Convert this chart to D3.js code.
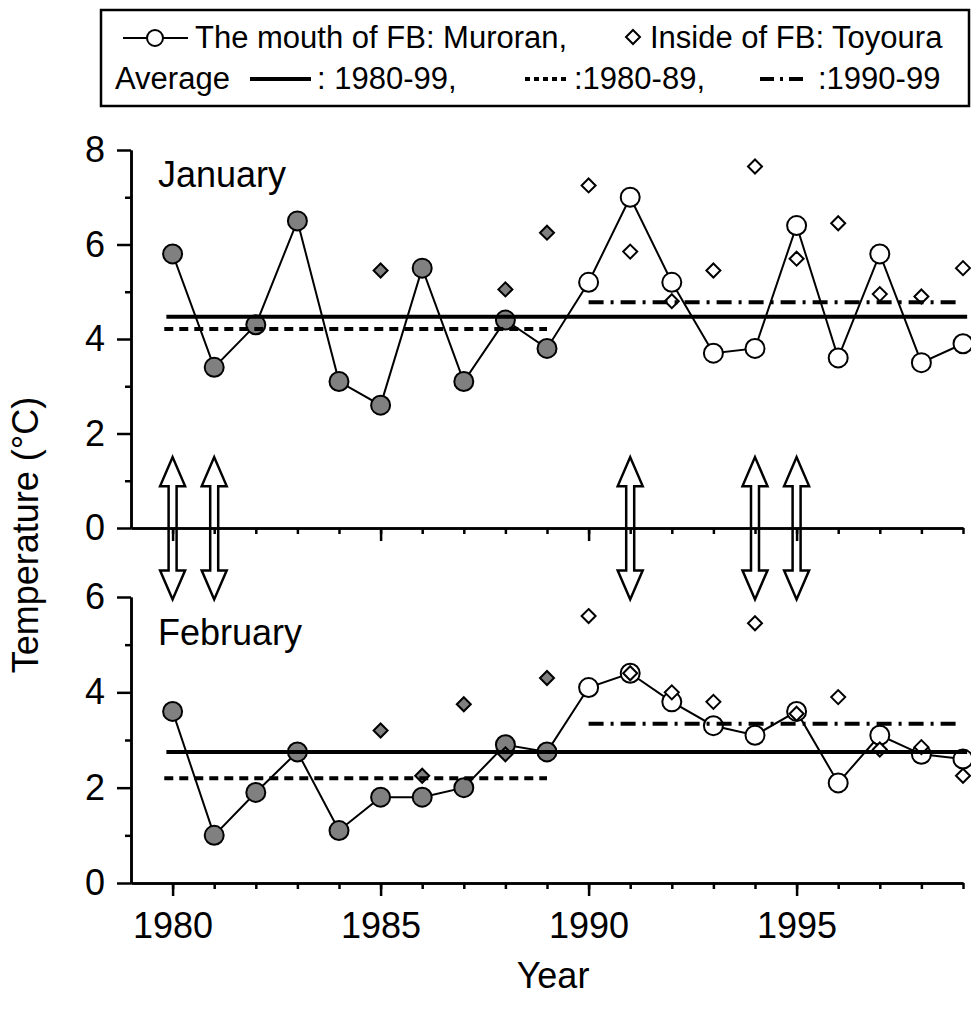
<!DOCTYPE html>
<html>
<head>
<meta charset="utf-8">
<script src="https://cdn.jsdelivr.net/npm/d3@7"></script>
<style>
body { margin: 0; background: #fff; }
svg text { font-family: "Liberation Sans", Arial, sans-serif; fill: #000; }
</style>
</head>
<body>
<script>
// years on the x axis
var years = [1980, 1981, 1982, 1983, 1984, 1985, 1986, 1987, 1988, 1989,
             1990, 1991, 1992, 1993, 1994, 1995, 1996, 1997, 1998, 1999];

// January, mouth of Funka Bay (Muroran) and inside (Toyoura)
var janMuroran = [5.8, 3.4, 4.3, 6.5, 3.1, 2.6, 5.5, 3.1, 4.4, 3.8,
                  5.2, 7.0, 5.2, 3.7, 3.8, 6.4, 3.6, 5.8, 3.5, 3.9];
var janToyoura = [null, null, null, null, null, 5.45, null, null, 5.05, 6.25,
                  7.25, 5.85, 4.8, 5.45, 7.65, 5.7, 6.45, 4.95, 4.9, 5.5];

// February
var febMuroran = [3.6, 1.0, 1.9, 2.75, 1.1, 1.8, 1.8, 2.0, 2.9, 2.75,
                  4.1, 4.4, 3.8, 3.3, 3.1, 3.6, 2.1, 3.1, 2.7, 2.6];
var febToyoura = [null, null, null, null, null, 3.2, 2.25, 3.75, 2.7, 4.3,
                  5.6, 4.4, 4.0, 3.8, 5.45, 3.55, 3.9, 2.8, 2.85, 2.25];

// averages: 1980-99, 1980-89, 1990-99
var avgStart = [1979.85, 1979.8, 1990];
var avgEnd = [1999.1, 1989, 1998.9];
var janAvg = [4.47, 4.21, 4.78];
var febAvg = [2.75, 2.2, 3.34];
var avgDash = [null, "9,6", "15,7,3,7"];

// years with a double arrow between the panels
var arrowYears = [1980, 1981, 1991, 1994, 1995];

var yTopTicks = [0, 2, 4, 6, 8];
var yTopMinor = [1, 3, 5, 7];
var yBotTicks = [0, 2, 4, 6];
var yBotMinor = [1, 3, 5];
var xTicks = [1980, 1985, 1990, 1995];

var w = 971;
var h = 1010;
var grey = "#808080";
var font = "'Liberation Sans', Arial, sans-serif";

var svg = d3.select("body")
    .append("svg")
    .attr("width", w)
    .attr("height", h)
    .attr("font-family", font);

var xScale = d3.scaleLinear().domain([1979, 1999]).range([131, 963]);
var yTop = d3.scaleLinear().domain([0, 8]).range([528, 150]);
var yBot = d3.scaleLinear().domain([0, 6]).range([883, 597]);

function styleAxis(g, showText) {
    g.attr("font-family", font).attr("font-size", null);
    g.selectAll("path.domain").attr("stroke-width", 2.5).attr("stroke", "#000");
    g.selectAll("line").attr("stroke-width", 2.5).attr("stroke", "#000");
    g.selectAll("text").style("font-size", "36px");
    if (!showText) g.selectAll("text").remove();
}

// arrows first, axes drawn over them
function arrowPath(x, t, b) {
    var hl = 29, hw = 12.5, sw = 4;
    return "M" + x + "," + t +
        "L" + (x + hw) + "," + (t + hl) + "L" + (x + sw) + "," + (t + hl) +
        "L" + (x + sw) + "," + (b - hl) + "L" + (x + hw) + "," + (b - hl) +
        "L" + x + "," + b +
        "L" + (x - hw) + "," + (b - hl) + "L" + (x - sw) + "," + (b - hl) +
        "L" + (x - sw) + "," + (t + hl) + "L" + (x - hw) + "," + (t + hl) + "Z";
}
svg.selectAll("path.arrow")
    .data(arrowYears)
    .join("path")
    .attr("class", "arrow")
    .attr("d", d => arrowPath(xScale(d), yTop(1.5), yBot(5.95)))
    .attr("fill", "#fff")
    .attr("stroke", "#000")
    .attr("stroke-width", 2.5)
    .attr("stroke-linejoin", "miter");

function drawPanel(yScale, yTicks, yMinor, muroran, toyoura, avg, label, labelY, showYears) {
    // y axis
    svg.append("g")
        .attr("transform", "translate(" + xScale(1979) + ",0)")
        .call(d3.axisLeft(yScale).tickValues(yTicks).tickSize(14).tickSizeOuter(0).tickPadding(12)
            .tickFormat(d3.format("d")))
        .call(g => styleAxis(g, true));
    svg.append("g")
        .attr("transform", "translate(" + xScale(1979) + ",0)")
        .call(d3.axisLeft(yScale).tickValues(yMinor).tickSize(6).tickSizeOuter(0))
        .call(g => styleAxis(g, false));

    // x axis at zero
    svg.append("g")
        .attr("transform", "translate(0," + yScale(0) + ")")
        .call(d3.axisBottom(xScale).tickValues(xTicks).tickSize(13).tickSizeOuter(0).tickPadding(16)
            .tickFormat(d3.format("d")))
        .call(g => styleAxis(g, showYears));
    svg.append("g")
        .attr("transform", "translate(0," + yScale(0) + ")")
        .call(d3.axisBottom(xScale).tickValues(years).tickSize(6).tickSizeOuter(0))
        .call(g => styleAxis(g, false));

    svg.append("text")
        .attr("x", xScale(1979.65))
        .attr("y", labelY)
        .style("font-size", "36px")
        .text(label);

    var pts = years.map((y, i) => ({year: y, v: muroran[i]}));
    var line = d3.line().x(d => xScale(d.year)).y(d => yScale(d.v));
    svg.append("path")
        .datum(pts)
        .attr("d", line)
        .attr("fill", "none")
        .attr("stroke", "#000")
        .attr("stroke-width", 2);

    svg.append("g")
        .selectAll("circle")
        .data(pts)
        .join("circle")
        .attr("cx", d => xScale(d.year))
        .attr("cy", d => yScale(d.v))
        .attr("r", 9.5)
        .attr("fill", d => d.year < 1990 ? grey : "#fff")
        .attr("stroke", "#000")
        .attr("stroke-width", 2);

    var dia = years.map((y, i) => ({year: y, v: toyoura[i]})).filter(d => d.v != null);
    svg.append("g")
        .selectAll("path")
        .data(dia)
        .join("path")
        .attr("d", d => {
            var x = xScale(d.year), y = yScale(d.v), s = 7;
            return "M" + x + "," + (y - s) + "L" + (x + s) + "," + y +
                "L" + x + "," + (y + s) + "L" + (x - s) + "," + y + "Z";
        })
        .attr("fill", d => d.year < 1990 ? grey : "#fff")
        .attr("stroke", "#000")
        .attr("stroke-width", 2);

    avg.forEach((v, i) => {
        svg.append("line")
            .attr("x1", xScale(avgStart[i]))
            .attr("x2", xScale(avgEnd[i]))
            .attr("y1", yScale(v))
            .attr("y2", yScale(v))
            .attr("stroke", "#000")
            .attr("stroke-width", 4)
            .attr("stroke-dasharray", avgDash[i]);
    });
}

drawPanel(yTop, yTopTicks, yTopMinor, janMuroran, janToyoura, janAvg, "January", 187, false);
drawPanel(yBot, yBotTicks, yBotMinor, febMuroran, febToyoura, febAvg, "February", 645, true);

// axis titles
svg.append("text")
    .attr("transform", "translate(38,535) rotate(-90)")
    .attr("text-anchor", "middle")
    .style("font-size", "36px")
    .text("Temperature (°C)");
svg.append("text")
    .attr("x", 553)
    .attr("y", 988)
    .attr("text-anchor", "middle")
    .style("font-size", "36px")
    .text("Year");

// legend
var lg = svg.append("g");
lg.append("rect")
    .attr("x", 101).attr("y", 10)
    .attr("width", 868).attr("height", 96)
    .attr("fill", "none")
    .attr("stroke", "#000")
    .attr("stroke-width", 2.5);
lg.append("line").attr("x1", 123).attr("x2", 188).attr("y1", 38).attr("y2", 38)
    .attr("stroke", "#000").attr("stroke-width", 2);
lg.append("circle").attr("cx", 155).attr("cy", 38).attr("r", 8)
    .attr("fill", "#fff").attr("stroke", "#000").attr("stroke-width", 2);
lg.append("text").attr("x", 195).attr("y", 48).style("font-size", "31px")
    .text("The mouth of FB: Muroran,");
lg.append("path").attr("d", "M633,30L640,37L633,44L626,37Z")
    .attr("fill", "#fff").attr("stroke", "#000").attr("stroke-width", 2);
lg.append("text").attr("x", 650).attr("y", 48).style("font-size", "31px")
    .text("Inside of FB: Toyoura");

lg.append("text").attr("x", 115).attr("y", 89).style("font-size", "31px").text("Average");
lg.append("line").attr("x1", 250).attr("x2", 311).attr("y1", 79).attr("y2", 79)
    .attr("stroke", "#000").attr("stroke-width", 4);
lg.append("text").attr("x", 317).attr("y", 89).style("font-size", "31px").text(": 1980-99,");
lg.append("line").attr("x1", 525).attr("x2", 568).attr("y1", 79).attr("y2", 79)
    .attr("stroke", "#000").attr("stroke-width", 4).attr("stroke-dasharray", "5,4");
lg.append("text").attr("x", 574).attr("y", 89).style("font-size", "31px").text(":1980-89,");
lg.append("line").attr("x1", 760).attr("x2", 803).attr("y1", 79).attr("y2", 79)
    .attr("stroke", "#000").attr("stroke-width", 4).attr("stroke-dasharray", "14,6,3,6");
lg.append("text").attr("x", 818).attr("y", 89).style("font-size", "31px").text(":1990-99");
</script>
</body>
</html>
